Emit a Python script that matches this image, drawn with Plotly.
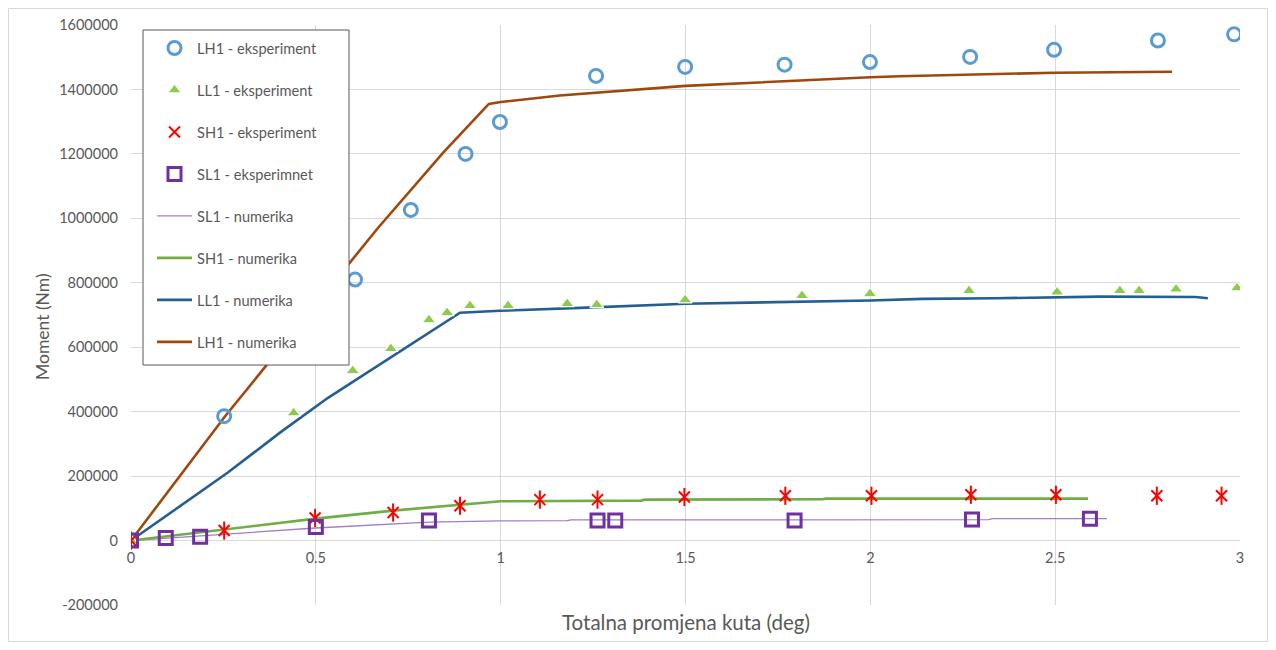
import plotly.graph_objects as go

# ---------------- data ----------------
LH1_exp_x = [0, 0.252, 0.606, 0.757, 0.905, 0.998, 1.258, 1.499, 1.768, 1.999, 2.270, 2.497, 2.778, 2.984]
LH1_exp_y = [0, 386000, 810000, 1026000, 1200000, 1299000, 1442000, 1470000, 1477000, 1485000, 1501000, 1523000, 1552000, 1571000]

LL1_exp_x = [0, 0.440, 0.600, 0.703, 0.806, 0.855, 0.917, 1.020, 1.180, 1.260, 1.499, 1.815, 1.999, 2.267, 2.505, 2.675, 2.727, 2.827, 2.992]
LL1_exp_y = [0, 396000, 527000, 596000, 685000, 707000, 729000, 729000, 735000, 732000, 747000, 760000, 766000, 776000, 771000, 776000, 776000, 780000, 784000]

SH1_exp_x = [0, 0.252, 0.498, 0.709, 0.890, 1.106, 1.262, 1.497, 1.770, 2.003, 2.272, 2.502, 2.775, 2.950]
SH1_exp_y = [0, 31000, 70000, 87000, 108000, 127000, 127000, 135000, 139000, 139000, 142000, 142000, 139000, 139000]

SL1_exp_x = [0, 0.094, 0.187, 0.500, 0.806, 1.262, 1.310, 1.795, 2.275, 2.594]
SL1_exp_y = [0, 8000, 12000, 42000, 62000, 62000, 62000, 62000, 65000, 68000]

LH1_num_x = [0, 0.254, 0.668, 0.844, 0.968, 1.0, 1.16, 1.377, 1.5, 2.0, 2.08, 2.5, 2.816]
LH1_num_y = [0, 385000, 970000, 1203000, 1355000, 1361000, 1381000, 1401000, 1411000, 1438000, 1441000, 1452000, 1455000]

LL1_num_x = [0, 0.262, 0.403, 0.533, 0.89, 0.998, 1.215, 1.5, 2.0, 2.14, 2.34, 2.62, 2.88, 2.913]
LL1_num_y = [0, 211000, 335000, 443000, 707000, 713000, 722000, 735000, 745000, 750000, 752000, 757000, 756000, 752000]

SH1_num_x = [0, 0.25, 0.5, 0.709, 0.89, 1.0, 1.38, 1.39, 1.87, 1.88, 2.589]
SH1_num_y = [0, 34000, 68000, 93000, 112000, 122000, 124000, 127000, 128000, 130000, 130000]

SL1_num_x = [0, 0.25, 0.5, 0.806, 1.0, 1.18, 1.19, 2.32, 2.33, 2.64]
SL1_num_y = [0, 20000, 39000, 57000, 61000, 62000, 64000, 65000, 68000, 68000]

y_tickvals = [-200000, 0, 200000, 400000, 600000, 800000, 1000000, 1200000, 1400000, 1600000]
y_ticktext = ["-200000", "0", "200000", "400000", "600000", "800000", "1000000", "1200000", "1400000", "1600000"]
x_tickvals = [0, 0.5, 1, 1.5, 2, 2.5, 3]
x_ticktext = ["0", "0.5", "1", "1.5", "2", "2.5", "3"]

# ---------------- figure ----------------
FONT = "Lato"
TXT = "#595959"
GRID = "#D9D9D9"

fig = go.Figure()

# numeric lines first (drawn below markers)
fig.add_trace(go.Scatter(x=SL1_num_x, y=SL1_num_y, mode="lines", name="SL1 - numerika",
                         line=dict(color="#A07CCB", width=1.3), legendrank=5, legendgroup="g5"))
fig.add_trace(go.Scatter(x=SH1_num_x, y=SH1_num_y, mode="lines", name="SH1 - numerika",
                         line=dict(color="#70AD47", width=2.6), legendrank=6, legendgroup="g6"))
fig.add_trace(go.Scatter(x=LL1_num_x, y=LL1_num_y, mode="lines", name="LL1 - numerika",
                         line=dict(color="#255E91", width=2.6), legendrank=7, legendgroup="g7"))
fig.add_trace(go.Scatter(x=LH1_num_x, y=LH1_num_y, mode="lines", name="LH1 - numerika",
                         line=dict(color="#9E480E", width=2.6), legendrank=8, legendgroup="g8"))

# experimental markers
fig.add_trace(go.Scatter(x=LH1_exp_x, y=LH1_exp_y, mode="markers", name="LH1 - eksperiment",
                         marker=dict(symbol="circle-open", size=13, color="#5B9BD5", line=dict(width=3)),
                         legendrank=1, legendgroup="g1"))
fig.add_trace(go.Scatter(x=LL1_exp_x, y=LL1_exp_y, mode="markers", name="LL1 - eksperiment",
                         marker=dict(symbol="triangle-up", size=12, color="#8CCB4E",
                                     line=dict(width=1.2, color="white")),
                         legendrank=2, legendgroup="g2"))
fig.add_trace(go.Scatter(x=SH1_exp_x, y=SH1_exp_y, mode="markers", name="SH1 - eksperiment",
                         marker=dict(symbol="x-thin-open", size=11, color="#FF0000", line=dict(width=2, color="#FF0000")),
                         legendrank=3, legendgroup="g3"))
fig.add_trace(go.Scatter(x=SH1_exp_x, y=SH1_exp_y, mode="markers", name="SH1 - eksperiment",
                         marker=dict(symbol="line-ns-open", size=13, color="#FF0000", line=dict(width=2, color="#FF0000")),
                         showlegend=False, legendgroup="g3"))
fig.add_trace(go.Scatter(x=SL1_exp_x, y=SL1_exp_y, mode="markers", name="SL1 - eksperimnet",
                         marker=dict(symbol="square-open", size=13, color="#7030A0", line=dict(width=3)),
                         legendrank=4, legendgroup="g4"))

# page has an 8px body margin: figure occupies page px 8..1268 x 8..642
OFF = 8
W, H = 1276 - 2 * OFF, 650 - 2 * OFF
# plot area in page px: x 131..1240, y 25..605
PX0, PX1, PY0, PY1 = 131, 1240, 25, 605
L, R, T, B = PX0 - OFF, (W + OFF) - PX1, PY0 - OFF, (H + OFF) - PY1
pw, ph = PX1 - PX0, PY1 - PY0

def px2paper_x(px):
    return (px - PX0) / pw

def px2paper_y(py):
    return (PY1 - py) / ph

fig.update_layout(
    width=W, height=H,
    margin=dict(l=L, r=R, t=T, b=B, autoexpand=False),
    paper_bgcolor="white", plot_bgcolor="white",
    font=dict(family=FONT, color=TXT, size=14.5),
    showlegend=True,
    legend=dict(
        x=px2paper_x(152), y=px2paper_y(32), xanchor="left", yanchor="top",
        bgcolor="rgba(0,0,0,0)", borderwidth=0,
        font=dict(family=FONT, size=14.6, color=TXT),
        tracegroupgap=20, itemwidth=35, traceorder="grouped",
    ),
    xaxis=dict(
        range=[0, 3], tickvals=x_tickvals, ticktext=x_ticktext,
        showgrid=True, gridcolor=GRID, gridwidth=1, zeroline=False, showline=False,
        anchor="free", position=(0 - (-200000)) / (1600000 - (-200000)),
        ticks="", tickfont=dict(size=14.5, color=TXT), ticklabelstandoff=7,
    ),
    yaxis=dict(
        range=[-200000, 1600000], tickvals=y_tickvals, ticktext=y_ticktext,
        showgrid=True, gridcolor=GRID, gridwidth=1, zeroline=False, showline=False,
        ticks="", tickfont=dict(size=14.5, color=TXT), ticklabelstandoff=12,
    ),
    shapes=[
        # outer chart border
        dict(type="rect", xref="paper", yref="paper",
             x0=px2paper_x(8.5), x1=px2paper_x(1267.5), y0=px2paper_y(641.5), y1=px2paper_y(8.5),
             line=dict(color=GRID, width=1), fillcolor="rgba(0,0,0,0)", layer="below"),
        # legend box
        dict(type="rect", xref="paper", yref="paper",
             x0=px2paper_x(143), x1=px2paper_x(349), y0=px2paper_y(365), y1=px2paper_y(30),
             line=dict(color="#595959", width=1), fillcolor="white", layer="above"),
    ],
    annotations=[
        dict(text="Moment (Nm)", xref="paper", yref="paper", x=px2paper_x(42), y=px2paper_y(327),
             textangle=-90, showarrow=False, font=dict(size=17.5, color=TXT, family=FONT),
             xanchor="center", yanchor="middle"),
        dict(text="Totalna promjena kuta (deg)", xref="paper", yref="paper", x=px2paper_x(685.5), y=px2paper_y(622),
             showarrow=False, font=dict(size=20.5, color=TXT, family=FONT),
             xanchor="center", yanchor="middle"),
    ],
)

fig.write_html("out.html")
